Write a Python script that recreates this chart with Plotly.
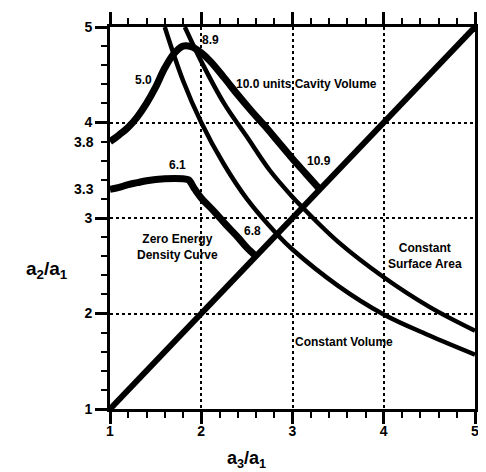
import plotly.graph_objects as go

# ---- data ----
diag_x = [1.0, 5.0]
diag_y = [1.0, 5.0]

volume_x = [1.6, 1.8, 2.0, 2.25, 2.5, 2.83, 3.0, 3.5, 4.0, 4.5, 5.0]
volume_y = [5.0, 4.44, 4.0, 3.56, 3.2, 2.83, 2.67, 2.29, 1.99, 1.77, 1.57]

surface_x = [1.82, 2.0, 2.25, 2.5, 2.75, 3.0, 3.11, 3.5, 4.0, 4.5, 5.0]
surface_y = [5.0, 4.64, 4.2, 3.85, 3.5, 3.22, 3.11, 2.75, 2.38, 2.07, 1.82]

upper_x = [1.0, 1.1, 1.2, 1.3, 1.4, 1.5, 1.6, 1.7, 1.8, 1.9, 2.0, 2.1,
           2.25, 2.4, 2.55, 2.7, 2.85, 3.0, 3.15, 3.3]
upper_y = [3.8, 3.87, 3.95, 4.06, 4.2, 4.37, 4.57, 4.72, 4.8, 4.79, 4.73, 4.64,
           4.47, 4.29, 4.12, 3.96, 3.79, 3.62, 3.46, 3.3]

lower_x = [1.0, 1.1, 1.2, 1.3, 1.4, 1.6, 1.8, 1.86, 1.93, 2.0, 2.15, 2.27,
           2.4, 2.5, 2.6]
lower_y = [3.3, 3.32, 3.35, 3.37, 3.39, 3.41, 3.41, 3.4, 3.3, 3.21, 3.06, 2.93,
           2.8, 2.69, 2.6]

label_text = ["5.0", "8.9", "10.0 units Cavity Volume", "10.9", "6.1", "6.8",
              "Zero Energy<br>Density Curve", "Constant<br>Surface Area",
              "Constant Volume"]
label_x = [1.37, 2.1, 3.15, 3.29, 1.74, 2.56, 1.74, 4.45, 3.56]
label_y = [4.45, 4.86, 4.4, 3.6, 3.55, 2.86, 2.7, 2.6, 1.7]

x_ticks = [1, 2, 3, 4, 5]
y_ticks = [1, 2, 3, 4, 5]
extra_y_labels = [3.3, 3.8]

FONT = "Liberation Sans, Arial, sans-serif"

fig = go.Figure()

fig.add_trace(go.Scatter(x=diag_x, y=diag_y, mode="lines",
                         line=dict(color="black", width=6)))
fig.add_trace(go.Scatter(x=volume_x, y=volume_y, mode="lines",
                         line=dict(color="black", width=4.5, shape="spline")))
fig.add_trace(go.Scatter(x=surface_x, y=surface_y, mode="lines",
                         line=dict(color="black", width=4.5, shape="spline")))
fig.add_trace(go.Scatter(x=upper_x, y=upper_y, mode="lines",
                         line=dict(color="black", width=7, shape="spline")))
fig.add_trace(go.Scatter(x=lower_x, y=lower_y, mode="lines",
                         line=dict(color="black", width=7, shape="spline")))

for t, x, y in zip(label_text, label_x, label_y):
    fig.add_annotation(x=x, y=y, text=t, showarrow=False,
                       font=dict(family=FONT, size=12, color="black", weight="bold"),
                       align="center", bgcolor="rgba(0,0,0,0)")

for v in extra_y_labels:
    fig.add_annotation(xref="paper", x=0, y=v, text=str(v), showarrow=False,
                       xanchor="right", xshift=-14,
                       font=dict(family=FONT, size=14, color="black", weight="bold"))

fig.add_annotation(xref="paper", x=0, y=2.46, text="a<sub>2</sub>/a<sub>1</sub>",
                   showarrow=False, xanchor="right", xshift=-40,
                   font=dict(family=FONT, size=19, color="black", weight="bold"))
fig.add_annotation(yref="paper", x=2.5, y=0, text="a<sub>3</sub>/a<sub>1</sub>",
                   showarrow=False, yanchor="top", yshift=-37,
                   font=dict(family=FONT, size=18, color="black", weight="bold"))

axis_common = dict(
    showline=True, linecolor="black", linewidth=3, mirror="allticks",
    ticks="outside", ticklen=12, tickwidth=3, tickcolor="black",
    showgrid=True, gridcolor="black", gridwidth=2, griddash="dot",
    zeroline=False,
    tickfont=dict(family=FONT, size=14, color="black", weight="bold"),
    minor=dict(dtick=0.2, ticks="outside", ticklen=6, tickwidth=2,
               tickcolor="black", showgrid=False),
)

fig.update_xaxes(range=[1, 5], tickmode="array", tickvals=x_ticks,
                 ticklabelstandoff=-5, **axis_common)
fig.update_yaxes(range=[1, 5], tickmode="array", tickvals=y_ticks, **axis_common)

fig.update_layout(
    width=486, height=472,
    margin=dict(l=102, r=4, t=19, b=71),
    plot_bgcolor="white", paper_bgcolor="white",
    showlegend=False,
)

fig.write_html("out.html")
